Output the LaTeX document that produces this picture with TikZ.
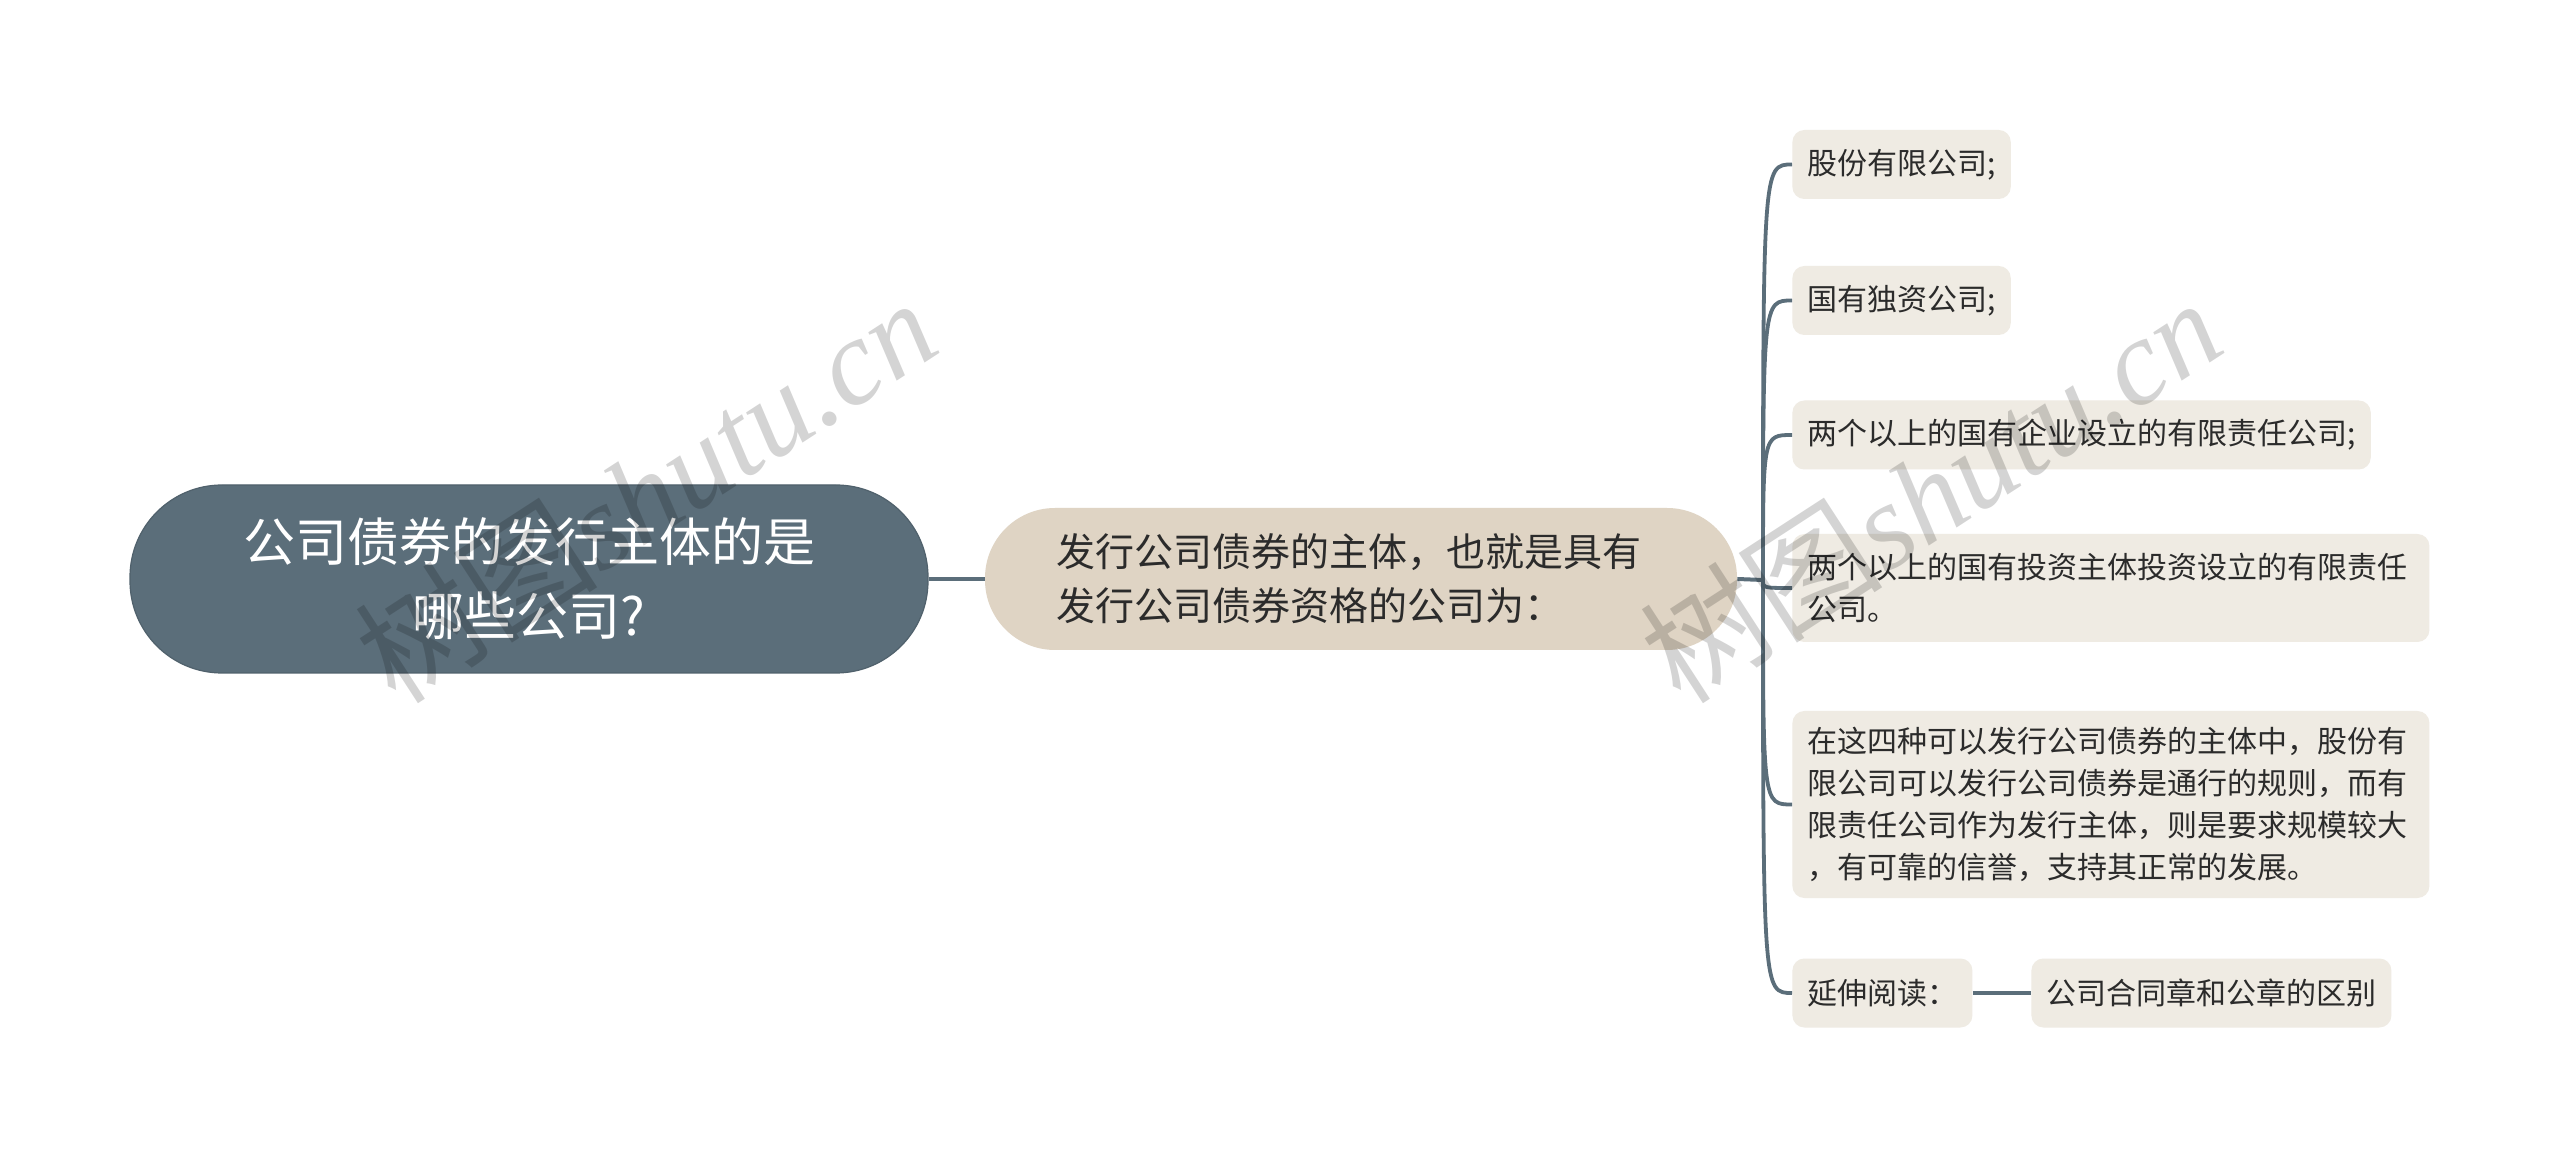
\documentclass[tikz,border=0pt]{standalone}
\usepackage{fontspec}
\setmainfont{Noto Sans CJK SC}
\newfontfamily\wmfont{Liberation Serif}
\definecolor{rootC}{HTML}{5B6E7A}
\definecolor{rootD}{HTML}{50616C}
\definecolor{subC}{HTML}{DFD4C4}
\definecolor{leafC}{HTML}{EFEBE3}
\definecolor{lineC}{HTML}{5B6E7A}
\definecolor{textC}{HTML}{2B2B2B}
\begin{document}
\begin{tikzpicture}[x=0.5pt,y=-0.5pt]
\tikzset{
  conn/.style={draw=lineC, line width=2pt},
  branch/.style={draw=lineC, line width=1.9pt},
  rootbox/.style={fill=rootC, draw=rootD, line width=0.6pt, rounded corners=46pt,
    minimum width=399pt, minimum height=94pt, inner sep=0pt, align=center,
    text=white, font=\fontsize{26}{37}\selectfont},
  subbox/.style={fill=subC, rounded corners=35pt, minimum width=376pt, minimum height=71pt,
    inner sep=0pt, align=left, text width=305pt, text=textC, font=\fontsize{19.5}{27}\selectfont},
  leaf/.style={fill=leafC, rounded corners=6pt, inner xsep=7.5pt, inner ysep=0pt,
    minimum height=34.5pt, anchor=west, align=left, text=textC,
    font=\fontsize{15}{21}\selectfont},
  wm/.style={rotate=33, text=black, text opacity=0.17, font=\fontsize{61}{70}\selectfont},
}
\path[fill=white, use as bounding box] (0,0) rectangle (2560,1159);

\node[rootbox] (root) at (529,579) {公司债券的发行主体的是\\哪些公司?};
\node[subbox] (sub) at (1361,579) {发行公司债券的主体，也就是具有\\发行公司债券资格的公司为：};
\coordinate (hub) at (1763,580);

\node[leaf] (l1) at (1792,164.5) {股份有限公司;};
\node[leaf] (l2) at (1792,300.5) {国有独资公司;};
\node[leaf] (l3) at (1792,435) {两个以上的国有企业设立的有限责任公司;};
\node[leaf, text width=303.5pt, minimum height=54pt] (l4) at (1792,588)
  {两个以上的国有投资主体投资设立的有限责任\\公司。};
\node[leaf, text width=303.5pt, minimum height=93.5pt] (l5) at (1792,804.5)
  {在这四种可以发行公司债券的主体中，股份有\\限公司可以发行公司债券是通行的规则，而有\\限责任公司作为发行主体，则是要求规模较大\\，有可靠的信誉，支持其正常的发展。};
\node[leaf] (l6) at (1792,993) {延伸阅读：};
\node[leaf] (l7) at (2031,993) {公司合同章和公章的区别};

\draw[conn] (root.east) -- (sub.west);
\draw[conn] (sub.east) -- (hub);
\foreach \n in {l1,l2,l3,l4,l5,l6}
  \draw[branch] (hub) .. controls (hub |- \n.west) .. (\n.west);
\draw[conn] (l6.east) -- (l7.west);

\node[wm] (wm1) at (645,490) {树图{\wmfont\itshape shutu.cn}};
\node[wm] (wm2) at (1930,490) {树图{\wmfont\itshape shutu.cn}};
\end{tikzpicture}
\end{document}
